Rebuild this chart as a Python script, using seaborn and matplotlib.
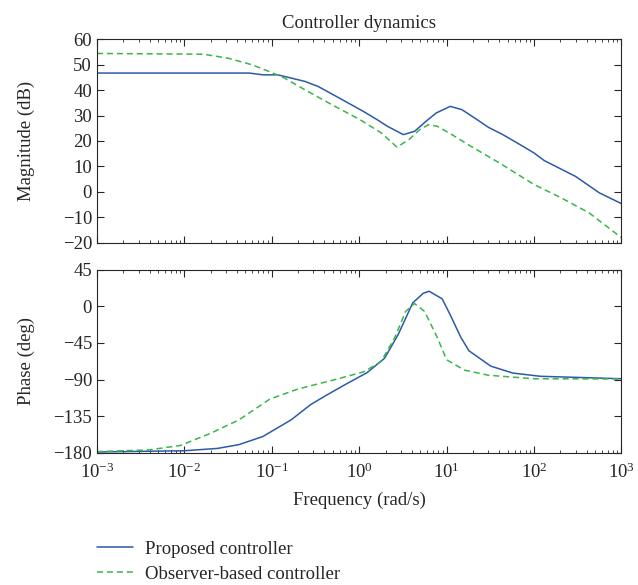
import numpy as np
import pandas as pd
import matplotlib
matplotlib.use("Agg")
import matplotlib.pyplot as plt
import seaborn as sns

# Values
mag_freq_prop = [0.001, 0.055, 0.079, 0.117, 0.24, 0.34, 0.59, 1.12, 1.6, 2.1, 3.2, 4.3,
                 5.8, 7.6, 11, 15, 21, 30, 44, 69, 100, 131, 298, 560, 1000]
mag_prop = [46.7, 46.7, 46.0, 46.0, 43.4, 41.4, 36.9, 31.6, 28.4, 25.8, 22.5, 23.8,
            27.7, 31.0, 33.6, 32.3, 29.0, 25.4, 22.5, 18.6, 15.3, 12.3, 6.1, -0.4, -4.6]

mag_freq_obs = [0.001, 0.0166, 0.032, 0.06, 0.1, 0.14, 0.24, 0.49, 1.02, 1.8, 2.7, 3.7,
                4.9, 6.2, 7.8, 11, 19, 40, 100, 206, 425, 1000]
mag_obs = [54.4, 54.1, 52.5, 49.9, 46.9, 44.7, 40.1, 34.2, 28.4, 23.1, 17.6, 20.5,
           24.4, 26.4, 25.8, 22.9, 17.9, 11.4, 2.9, -2.4, -8.2, -18.0]

ph_freq_prop = [0.001, 0.01, 0.024, 0.042, 0.079, 0.166, 0.28, 0.41, 0.71, 1.23, 1.95,
                2.8, 4.1, 5.4, 6.3, 8.9, 11, 14.5, 18, 32, 57, 118, 1000]
ph_prop = [-179, -177.5, -174.6, -170, -160, -139.6, -120.6, -110, -95.5, -81.5, -63.9,
           -34.4, 4.2, 16, 18.5, 9.2, -10.5, -37.8, -54.6, -73.5, -82, -86, -89]

ph_freq_obs = [0.001, 0.0039, 0.009, 0.02, 0.042, 0.095, 0.2, 0.49, 1.12, 1.78, 2.55,
               3.4, 4.3, 5.6, 7.8, 10, 16, 30, 100, 1000]
ph_obs = [-178.5, -176.5, -171, -156, -139.6, -114, -101.6, -91, -80.6, -67.9, -38.5,
          -6.3, 3.4, -6.3, -38, -65.7, -78.4, -84.7, -89, -89.3]

series = ["Proposed controller", "Observer-based controller"]
colors = ["#2c5aa8", "#3bb54a"]

sns.set_style("ticks")
plt.rcParams["font.family"] = ["Liberation Serif", "DejaVu Serif"]
plt.rcParams["mathtext.fontset"] = "stix"
plt.rcParams["axes.unicode_minus"] = True

fig = plt.figure(figsize=(6.38, 5.85), dpi=100)
ax1 = fig.add_axes([0.152, 0.585, 0.822, 0.348])
ax2 = fig.add_axes([0.152, 0.226, 0.822, 0.313], sharex=ax1)

mag_df = pd.concat([
    pd.DataFrame({"freq": mag_freq_prop, "val": mag_prop, "ctrl": series[0]}),
    pd.DataFrame({"freq": mag_freq_obs, "val": mag_obs, "ctrl": series[1]}),
])
ph_df = pd.concat([
    pd.DataFrame({"freq": ph_freq_prop, "val": ph_prop, "ctrl": series[0]}),
    pd.DataFrame({"freq": ph_freq_obs, "val": ph_obs, "ctrl": series[1]}),
])

for ax, df in [(ax1, mag_df), (ax2, ph_df)]:
    sns.lineplot(data=df, x="freq", y="val", hue="ctrl", style="ctrl",
                 palette=colors, dashes=[(None, None), (4, 2.5)], lw=1.1,
                 ax=ax, legend=False)
    ax.set_xscale("log")
    ax.set_xlim(1e-3, 1e3)
    ax.tick_params(which="both", direction="in", top=True, right=True, labelsize=13.5)
    ax.tick_params(which="major", length=5)
    ax.tick_params(which="minor", length=2.5)
    ax.tick_params(axis="x", pad=7)
    for s in ax.spines.values():
        s.set_linewidth(0.8)

ax1.set_ylim(-20, 60)
ax1.set_yticks(range(-20, 61, 10))
ax1.tick_params(labelbottom=False)
ax1.set_xlabel("")
ax1.set_ylabel("Magnitude (dB)", fontsize=13.5)
ax1.set_title("Controller dynamics", fontsize=13.5, pad=8)

ax2.set_ylim(-180, 45)
ax2.set_yticks(range(-180, 46, 45))
ax2.set_xticks([1e-3, 1e-2, 1e-1, 1e0, 1e1, 1e2, 1e3])
ax2.set_xlabel("Frequency (rad/s)", fontsize=13.5, labelpad=7)
ax2.set_ylabel("Phase (deg)", fontsize=13.5)
ax1.yaxis.set_label_coords(-0.118, 0.5)
ax2.yaxis.set_label_coords(-0.118, 0.5)

handles = [plt.Line2D([], [], color=colors[0], lw=1.1),
           plt.Line2D([], [], color=colors[1], lw=1.1, ls=(0, (4, 2.5)))]
fig.legend(handles, series, loc="upper left", bbox_to_anchor=(0.152, 0.076),
           frameon=False, fontsize=13.5, handlelength=1.9, handletextpad=0.65,
           labelspacing=0.42, borderpad=0, borderaxespad=0)

fig.savefig("out.png", dpi=100)
